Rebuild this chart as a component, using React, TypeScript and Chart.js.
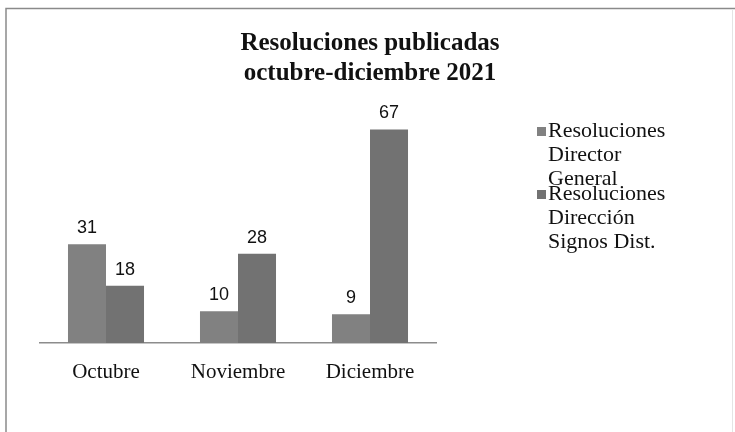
import React, { useEffect, useRef } from "react";
import { Chart, registerables } from "chart.js";

Chart.register(...registerables);

const titleLines = ["Resoluciones publicadas", "octubre-diciembre 2021"];
const categories = ["Octubre", "Noviembre", "Diciembre"];
const seriesNames = [
  ["Resoluciones", "Director", "General"],
  ["Resoluciones", "Dirección", "Signos Dist."],
];
const directorGeneral = [31, 10, 9];
const direccionSignos = [18, 28, 67];
const yMax = 80;

const colors = ["#818181", "#727272"];

const decorPlugin = {
  id: "decor",
  afterDraw(chart: any) {
    const ctx = chart.ctx as CanvasRenderingContext2D;
    ctx.save();
    // frame
    ctx.strokeStyle = "#8a8a8a";
    ctx.lineWidth = 1.5;
    ctx.beginPath();
    ctx.moveTo(6, 432);
    ctx.lineTo(6, 8.5);
    ctx.lineTo(735, 8.5);
    ctx.stroke();
    ctx.strokeStyle = "#e4e4e4";
    ctx.lineWidth = 1;
    ctx.beginPath();
    ctx.moveTo(732.5, 9);
    ctx.lineTo(732.5, 432);
    ctx.stroke();

    // title
    ctx.fillStyle = "#111";
    ctx.font = "bold 25px 'Liberation Serif', serif";
    ctx.textAlign = "center";
    ctx.textBaseline = "alphabetic";
    ctx.fillText(titleLines[0], 370, 50);
    ctx.fillText(titleLines[1], 370, 80);

    // data labels
    ctx.font = "18px 'Liberation Sans', sans-serif";
    ctx.textBaseline = "bottom";
    chart.data.datasets.forEach((ds: any, di: number) => {
      const meta = chart.getDatasetMeta(di);
      meta.data.forEach((bar: any, i: number) => {
        ctx.fillText(String(ds.data[i]), bar.x, bar.y - 7);
      });
    });

    // legend
    ctx.textAlign = "left";
    ctx.textBaseline = "middle";
    ctx.font = "22px 'Liberation Serif', serif";
    const starts = [131, 194];
    seriesNames.forEach((lines, si) => {
      const y0 = starts[si];
      ctx.fillStyle = colors[si];
      ctx.fillRect(537, y0 - 4, 9, 9);
      ctx.fillStyle = "#111";
      lines.forEach((t, li) => {
        ctx.fillText(t, 548, y0 + li * 24);
      });
    });
    ctx.restore();
  },
};

export default function App() {
  const ref = useRef<HTMLCanvasElement>(null);
  useEffect(() => {
    document.body.style.margin = "0";
    const chart = new Chart(ref.current!, {
      type: "bar",
      data: {
        labels: categories,
        datasets: [
          {
            label: seriesNames[0].join(" "),
            data: directorGeneral,
            backgroundColor: colors[0],
            categoryPercentage: 0.576,
            barPercentage: 1,
          },
          {
            label: seriesNames[1].join(" "),
            data: direccionSignos,
            backgroundColor: colors[1],
            categoryPercentage: 0.576,
            barPercentage: 1,
          },
        ],
      },
      options: {
        responsive: false,
        animation: false,
        layout: { padding: { left: 40, right: 299, top: 88, bottom: 0 } },
        plugins: {
          legend: { display: false },
          title: { display: false },
          tooltip: { enabled: false },
        },
        scales: {
          y: { display: false, min: 0, max: yMax },
          x: {
            grid: { display: false },
            border: { display: true, color: "#8c8c8c", width: 1.5 },
            ticks: {
              color: "#111",
              padding: 9,
              font: { family: "'Liberation Serif', serif", size: 21 },
            },
            afterFit(scale: any) {
              scale.height = 89;
            },
          },
        },
      },
      plugins: [decorPlugin],
    });
    return () => chart.destroy();
  }, []);
  return <canvas ref={ref} width={735} height={432} style={{ display: "block" }} />;
}
